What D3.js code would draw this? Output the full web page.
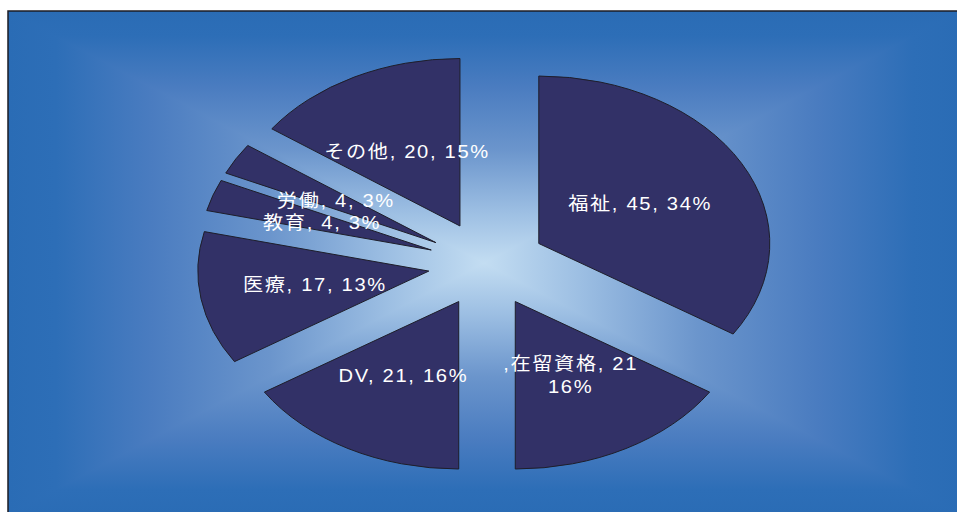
<!DOCTYPE html>
<html>
<head>
<meta charset="utf-8">
<script src="https://cdn.jsdelivr.net/npm/d3@7"></script>
<style>
  body { margin: 0; background: #fff; }
  svg { display: block; }
</style>
</head>
<body>
<div id="chart"></div>
<script>
// 相談分野の内訳
const categories = ['福祉', '在留資格', 'DV', '医療', '教育', '労働', 'その他']
const values = [45, 21, 21, 17, 4, 4, 20]
const labelLines = [
    ['福祉, 45, 34%'],
    [',在留資格, 21', '16%'],
    ['DV, 21, 16%'],
    ['医療, 17, 13%'],
    ['教育, 4, 3%'],
    ['労働, 4, 3%'],
    ['その他, 20, 15%']
]

const width = 957, height = 512

// box of the plot area
const box = { x0: 8, y0: 11, x1: 960, y1: 515 }
const bcx = (box.x0 + box.x1) / 2, bcy = (box.y0 + box.y1) / 2

const cx = 487, cy = 264
const rx = 231
const k = 0.725        // vertical squash of the pie
const explode = 59

const svg = d3.select('#chart')
    .append('svg')
    .attr('width', width)
    .attr('height', height)

const defs = svg.append('defs')

const stops = [
    [0, '#2a6cb5'],
    [0.1, '#2d6eb7'],
    [0.3, '#4a7cc0'],
    [0.55, '#6b95cc'],
    [0.8, '#9dbfe3'],
    [1, '#c3ddf2']
]

function grad(id, x1, y1, x2, y2) {
    const g = defs.append('linearGradient')
        .attr('id', id)
        .attr('gradientUnits', 'userSpaceOnUse')
        .attr('spreadMethod', 'reflect')
        .attr('x1', x1).attr('y1', y1)
        .attr('x2', x2).attr('y2', y2)
    stops.forEach(s => g.append('stop').attr('offset', s[0]).attr('stop-color', s[1]))
}
grad('gVert', 0, box.y0, 0, bcy)
grad('gHorz', box.x0, 0, bcx, 0)

// rectangular "from center" gradient: vertical fill, then side triangles
svg.append('rect')
    .attr('x', box.x0).attr('y', box.y0)
    .attr('width', box.x1 - box.x0).attr('height', box.y1 - box.y0)
    .attr('fill', 'url(#gVert)')

const tri = [
    [[box.x0, box.y0], [box.x0, box.y1], [bcx, bcy]],
    [[box.x1, box.y0], [box.x1, box.y1], [bcx, bcy]]
]
svg.selectAll('.bg')
    .data(tri)
    .enter().append('polygon')
    .attr('class', 'bg')
    .attr('points', d => d.map(p => p.join(',')).join(' '))
    .attr('fill', 'url(#gHorz)')

svg.append('rect')
    .attr('x', box.x0).attr('y', box.y0)
    .attr('width', box.x1 - box.x0).attr('height', box.y1 - box.y0)
    .attr('fill', 'none')
    .attr('stroke', '#1c1c24')
    .attr('stroke-width', 1.5)

const pie = d3.pie().sort(null).value(d => d).startAngle(0).endAngle(2 * Math.PI)
const arcs = pie(values)
const arc = d3.arc().innerRadius(0).outerRadius(rx)

const mid = d => (d.startAngle + d.endAngle) / 2
const offX = d => explode * Math.sin(mid(d))
const offY = d => -explode * Math.cos(mid(d))

svg.selectAll('.slice')
    .data(arcs)
    .enter().append('path')
    .attr('class', 'slice')
    .attr('transform', d => `translate(${cx + offX(d)},${cy + offY(d) * k}) scale(1,${k})`)
    .attr('d', arc)
    .attr('fill', '#323167')
    .attr('stroke', '#1e1e2a')
    .attr('stroke-width', 1)
    .attr('vector-effect', 'non-scaling-stroke')

const lineH = 23
const lab = svg.selectAll('.lab')
    .data(arcs)
    .enter().append('g')
    .attr('class', 'lab')
    .attr('transform', d => {
        const c = arc.centroid(d)
        const x = cx + offX(d) + c[0]
        const y = cy + (offY(d) + c[1]) * k
        return `translate(${x},${y})`
    })

lab.each(function (d, i) {
    const lines = labelLines[i]
    const t = d3.select(this).append('text')
        .attr('transform', 'scale(1.12,1)')
        .attr('text-anchor', 'middle')
        .attr('font-family', '"Liberation Sans", Arial, "Noto Sans CJK JP", sans-serif')
        .attr('font-size', '18px')
        .attr('letter-spacing', '1.5px')
        .attr('fill', '#ffffff')
    lines.forEach((s, j) => {
        t.append('tspan')
            .attr('x', 0)
            .attr('y', (j - (lines.length - 1) / 2) * lineH)
            .attr('dy', '0.36em')
            .text(s)
    })
})
</script>
</body>
</html>
